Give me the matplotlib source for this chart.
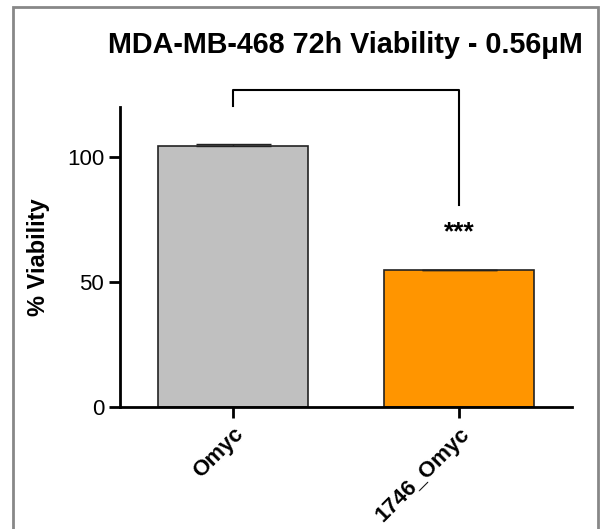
import matplotlib.pyplot as plt
import matplotlib.patches as mpatches
import numpy as np

plt.rcParams['font.family'] = ['Liberation Sans', 'DejaVu Sans']

groups = ['Omyc', '1746_Omyc']
viability = [104.5, 54.8]
sem = [0.9, 0.0]
colors = ['#c0c0c0', '#ff9500']
title = 'MDA-MB-468 72h Viability - 0.56\u03bcM'
stars = '***'

fig = plt.figure(figsize=(6, 5.29), dpi=100)
ax = fig.add_axes([0.2, 0.2306, 0.753, 0.567])

ix = np.arange(len(groups))
ax.bar(ix, viability, 0.667, color=colors, edgecolor='#222222', linewidth=1.2, zorder=2)
# only the upper half of the error bar is visible above the bar
ax.errorbar(ix, viability, yerr=[np.zeros(len(sem)), sem], fmt='none', ecolor='#222222',
            elinewidth=1, capsize=27, capthick=1, zorder=3)

ax.set_xlim(-0.5, 1.5)
ax.set_ylim(0, 120)
ax.set_yticks([0, 50, 100])
ax.set_xticks(ix)
ax.set_xticklabels(groups, rotation=45, ha='right', rotation_mode='anchor',
                   fontsize=16, fontweight='bold')
ax.tick_params(axis='y', labelsize=16, length=8, width=2, direction='out')
ax.tick_params(axis='x', length=8, width=2, direction='out', pad=4)
ax.spines['top'].set_visible(False)
ax.spines['right'].set_visible(False)
ax.spines['left'].set_linewidth(2)
ax.spines['bottom'].set_linewidth(2)
ax.set_ylabel('% Viability', fontsize=17, fontweight='bold', labelpad=12)

# significance bracket
ax.plot([ix[0], ix[0], ix[1], ix[1]], [120.5, 127, 127, 81], color='black',
        linewidth=1.5, clip_on=False)
ax.text(ix[1], 70, stars, ha='center', va='center', fontsize=19, fontweight='bold')

fig.text(0.972, 0.915, title, ha='right', va='center', fontsize=20.7, fontweight='bold')

# gray frame around the figure
frame = mpatches.Rectangle((13 / 600, -0.02), 585 / 600, 1.02 - 7 / 529,
                           transform=fig.transFigure, fill=False,
                           edgecolor='#888888', linewidth=2, clip_on=False)
fig.patches.append(frame)

fig.savefig('out.png', dpi=100)
